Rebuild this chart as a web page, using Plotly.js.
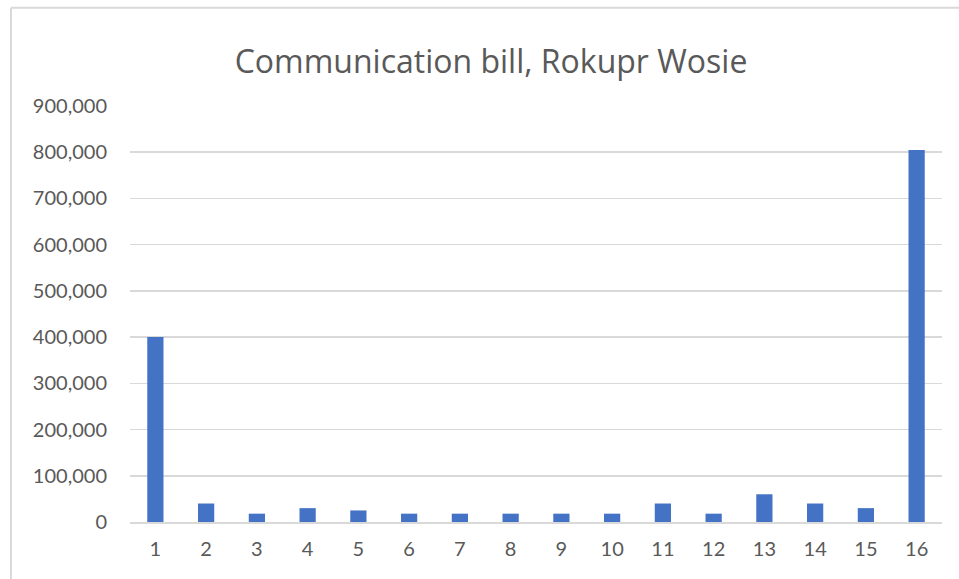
<!DOCTYPE html>
<html>
<head>
<meta charset="utf-8">
<script src="https://cdn.plot.ly/plotly-3.0.1.min.js"></script>
<style>
  html, body { margin: 0; padding: 0; background: #fff; }
  #chart { width: 959px; height: 579px; }
</style>
</head>
<body>
<div id="chart"></div>
<script>
const categories = ["1","2","3","4","5","6","7","8","9","10","11","12","13","14","15","16"];
const bills = [400000, 40000, 18000, 30000, 25000, 18000, 18000, 18000, 18000, 18000, 40000, 18000, 60000, 40000, 30000, 805000];
const yTicks = [0, 100000, 200000, 300000, 400000, 500000, 600000, 700000, 800000, 900000];
const yTickLabels = ["0", "100,000", "200,000", "300,000", "400,000", "500,000", "600,000", "700,000", "800,000", "900,000"];
const chartTitle = "Communication bill, Rokupr Wosie";

const trace = {
  type: "bar",
  x: categories,
  y: bills,
  marker: { color: "#4472c4" },
  hoverinfo: "x+y"
};

const layout = {
  width: 959,
  height: 579,
  margin: { l: 130, r: 17, t: 106, b: 57 },
  paper_bgcolor: "#ffffff",
  plot_bgcolor: "#ffffff",
  bargap: 0.68,
  showlegend: false,
  font: { family: "Lato, 'Open Sans', sans-serif", color: "#595959" },
  title: {
    text: chartTitle,
    font: { family: "'Open Sans', Lato, sans-serif", size: 32, color: "#595959" },
    x: 0.512, xanchor: "center",
    y: 0.893, yanchor: "middle"
  },
  xaxis: {
    type: "category",
    showgrid: false,
    showline: true,
    linecolor: "#d9d9d9",
    linewidth: 2,
    ticks: "",
    tickfont: { size: 20, color: "#595959" },
    ticklabelstandoff: 8,
    zeroline: false
  },
  yaxis: {
    range: [0, 900000],
    tickvals: yTicks,
    ticktext: yTickLabels,
    showgrid: true,
    gridcolor: "#d9d9d9",
    gridwidth: 1.5,
    zeroline: false,
    showline: false,
    ticks: "",
    tickfont: { size: 20, color: "#595959" },
    ticklabelstandoff: 22
  },
  shapes: [
    { type: "line", xref: "paper", yref: "paper", x0: -0.1466, x1: -0.1466, y0: 1.236, y1: -0.2, line: { color: "#d9d9d9", width: 2 } },
    { type: "line", xref: "paper", yref: "paper", x0: -0.1466, x1: 1.1, y0: 1.236, y1: 1.236, line: { color: "#d9d9d9", width: 2 } }
  ]
};

Plotly.newPlot("chart", [trace], layout, { displayModeBar: false, staticPlot: true });
</script>
</body>
</html>
